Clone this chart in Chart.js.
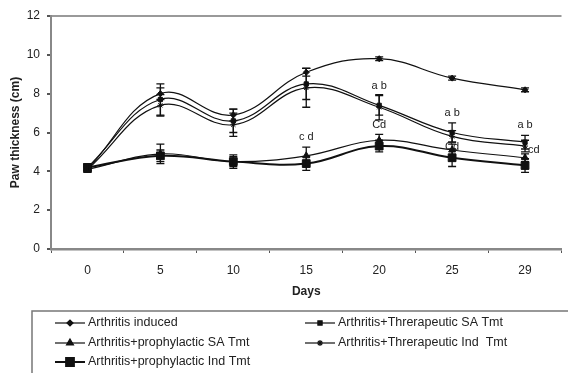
<!DOCTYPE html>
<html>
<head>
<meta charset="utf-8">
<script src="https://cdn.jsdelivr.net/npm/chart.js@4.4.1/dist/chart.umd.min.js"></script>
<style>
  html, body { margin: 0; padding: 0; background: #fff; }
  #wrap { position: relative; width: 568px; height: 373px; }
</style>
</head>
<body>
<div id="wrap"><canvas id="chart" width="568" height="373"></canvas></div>
<script>
// data
const days = ["0", "5", "10", "15", "20", "25", "29"];
const yTicks = [0, 2, 4, 6, 8, 10, 12];

const induced    = [4.1, 8.0, 6.9, 9.1, 9.8, 8.8, 8.2];
const therSA     = [4.2, 7.7, 6.6, 8.5, 7.4, 6.0, 5.5];
const therInd    = [4.1, 7.4, 6.4, 8.3, 7.3, 5.8, 5.3];
const prophSA    = [4.1, 4.9, 4.5, 4.8, 5.6, 5.1, 4.7];
const prophInd   = [4.2, 4.8, 4.5, 4.4, 5.3, 4.7, 4.3];

const errInduced  = [0.1, 0.3, 0.3, 0.2, 0.1, 0.1, 0.1];
const errTherSA   = [0.15, 0.8, 0.6, 0.8, 0.5, 0.5, 0.35];
const errTherInd  = [0.15, 0.55, 0.6, 1.0, 0.65, 0.3, 0.3];
const errProphSA  = [0.15, 0.5, 0.35, 0.45, 0.3, 0.3, 0.2];
const errProphInd = [0.2, 0.3, 0.25, 0.35, 0.3, 0.45, 0.35];

const sigTherSA  = ["", "", "", "", "a b", "a b", "a b"];
const sigProphSA = ["", "", "", "c d", "", "", ""];
const sigTherInd = ["", "", "", "", "Cd", "Cd", "cd"];

const FONT = "'Liberation Sans', Arial, sans-serif";

function makeSet(label, data, err, style, radius, width, sig, sigPos) {
    return {
        label: label,
        data: data,
        err: err,
        sig: sig || null,
        sigPos: sigPos || "above",
        borderColor: "#111",
        backgroundColor: "#111",
        borderWidth: width,
        pointStyle: style,
        pointRadius: radius,
        pointBorderWidth: 1,
        pointBorderColor: "#111",
        pointBackgroundColor: "#111",
        tension: 0.4,
        fill: false
    };
}

const datasets = [
    makeSet("Arthritis induced", induced, errInduced, "rectRot", 3, 1.2),
    makeSet("Arthritis+Threrapeutic SA Tmt", therSA, errTherSA, "rect", 3, 1.2, sigTherSA, "above"),
    makeSet("Arthritis+prophylactic SA Tmt", prophSA, errProphSA, "triangle", 4, 1.2, sigProphSA, "above"),
    makeSet("Arthritis+Threrapeutic Ind  Tmt", therInd, errTherInd, "star", 3, 1.2, sigTherInd, "below"),
    makeSet("Arthritis+prophylactic Ind Tmt", prophInd, errProphInd, "rect", 5.5, 2)
];

// error bars + significance letters
const errorBars = {
    id: "errorBars",
    afterDatasetsDraw(chart) {
        const ctx = chart.ctx;
        const xs = chart.scales.x, ys = chart.scales.y;
        ctx.save();
        ctx.strokeStyle = "#111";
        ctx.lineWidth = 1.3;
        chart.data.datasets.forEach(ds => {
            ds.data.forEach((v, i) => {
                const e = ds.err[i];
                const x = xs.getPixelForValue(i);
                const yt = ys.getPixelForValue(v + e);
                const yb = ys.getPixelForValue(v - e);
                ctx.beginPath();
                ctx.moveTo(x, yt); ctx.lineTo(x, yb);
                ctx.moveTo(x - 4, yt); ctx.lineTo(x + 4, yt);
                ctx.moveTo(x - 4, yb); ctx.lineTo(x + 4, yb);
                ctx.stroke();
                if (ds.sig && ds.sig[i]) {
                    ctx.fillStyle = "#222";
                    ctx.font = "11px " + FONT;
                    ctx.textBaseline = "middle";
                    if (ds.sigPos === "below" && i === ds.data.length - 1) {
                        ctx.textAlign = "left";
                        ctx.fillText(ds.sig[i], x + 3, ys.getPixelForValue(v) + 4);
                    } else if (ds.sigPos === "below") {
                        ctx.textAlign = "center";
                        ctx.fillText(ds.sig[i], x, yb + 5);
                    } else {
                        ctx.textAlign = "center";
                        ctx.fillText(ds.sig[i], x, yt - 10);
                    }
                }
            });
        });
        ctx.restore();
    }
};

// boxed two-column legend under the plot
const boxLegend = {
    id: "boxLegend",
    afterDraw(chart) {
        const ctx = chart.ctx;
        const order = [0, 1, 2, 3, 4];
        const colX = [55, 305];
        const rowY = [323, 343, 362];
        ctx.save();
        ctx.strokeStyle = "#777";
        ctx.lineWidth = 1.5;
        ctx.strokeRect(32, 311, 560, 80);
        ctx.font = "12.5px " + FONT;
        ctx.fillStyle = "#222";
        ctx.textAlign = "left";
        ctx.textBaseline = "middle";
        order.forEach((di, k) => {
            const ds = chart.data.datasets[di];
            const x = colX[k % 2], y = rowY[Math.floor(k / 2)];
            ctx.strokeStyle = "#111";
            ctx.lineWidth = ds.borderWidth;
            ctx.beginPath();
            ctx.moveTo(x, y); ctx.lineTo(x + 30, y);
            ctx.stroke();
            ctx.fillStyle = "#111";
            Chart.helpers.drawPoint(ctx, {
                pointStyle: ds.pointStyle,
                radius: ds.pointRadius,
                rotation: 0,
                borderWidth: 1
            }, x + 15, y);
            ctx.fillStyle = "#222";
            ctx.fillText(ds.label, x + 33, y);
        });
        ctx.restore();
    }
};

new Chart(document.getElementById("chart"), {
    type: "line",
    data: { labels: days, datasets: datasets },
    options: {
        responsive: false,
        animation: false,
        devicePixelRatio: 1,
        layout: { padding: { left: 0, right: 0, top: 16, bottom: 72 } },
        plugins: {
            legend: { display: false },
            tooltip: { enabled: false }
        },
        scales: {
            x: {
                offset: true,
                afterFit: s => { s.height = 52; },
                grid: {
                    offset: true,
                    drawOnChartArea: false,
                    drawTicks: true,
                    tickLength: 4,
                    tickColor: "#555"
                },
                border: { display: true, color: "#888", width: 2.5 },
                ticks: { color: "#222", padding: 10, font: { family: FONT, size: 12 } },
                title: {
                    display: true,
                    text: "Days",
                    color: "#222",
                    padding: { top: 2, bottom: 2 },
                    font: { family: FONT, size: 12, weight: "bold" }
                }
            },
            y: {
                min: 0,
                max: 12,
                afterFit: s => { s.width = 51; },
                afterBuildTicks: s => { s.ticks = yTicks.map(v => ({ value: v })); },
                grid: {
                    color: c => (c.tick && c.tick.value === 12 ? "#999" : "rgba(0,0,0,0)"),
                    lineWidth: 2,
                    tickLength: 4,
                    tickColor: "#555"
                },
                border: { display: true, color: "#888", width: 2 },
                ticks: { color: "#222", padding: 7, font: { family: FONT, size: 12 } },
                title: {
                    display: true,
                    text: "Paw thickness (cm)",
                    color: "#222",
                    padding: { top: 8, bottom: 4 },
                    font: { family: FONT, size: 12, weight: "bold" }
                }
            }
        }
    },
    plugins: [errorBars, boxLegend]
});
</script>
</body>
</html>
